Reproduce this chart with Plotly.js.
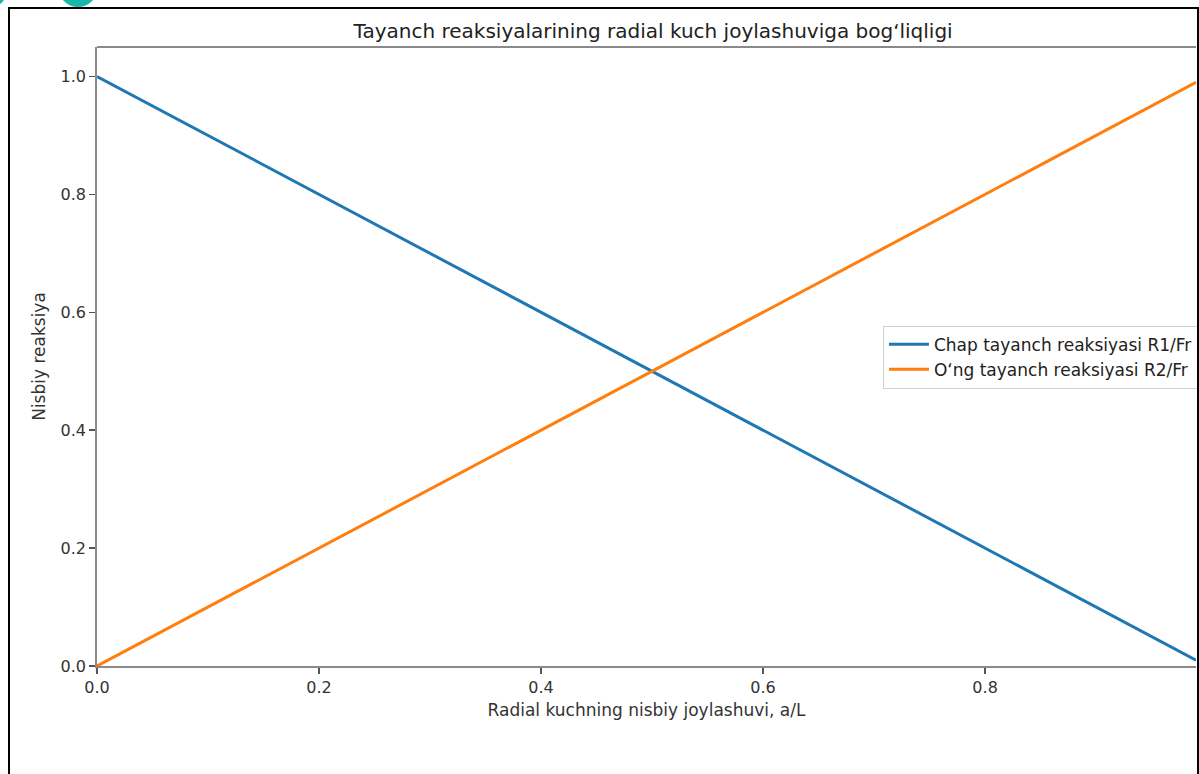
<!DOCTYPE html>
<html>
<head>
<meta charset="utf-8">
<script src="https://cdn.plot.ly/plotly-3.0.1.min.js"></script>
<style>
  html, body { margin: 0; padding: 0; background: #ffffff; overflow: hidden; }
  #chart { width: 1199px; height: 774px; position: absolute; left: 0; top: 0; }
  .frame { position: absolute; background: #000; z-index: 5; }
  .dot { position: absolute; background: #17b8ab; border-radius: 50%; z-index: 6; }
</style>
</head>
<body>
<div id="chart"></div>
<div class="frame" style="left:8px; top:7px; width:2px; height:767px;"></div>
<div class="frame" style="left:8px; top:7px; width:1190px; height:2px;"></div>
<div class="frame" style="left:1197px; top:7px; width:2px; height:767px;"></div>
<div class="dot" style="left:58px; top:-34px; width:40px; height:41px;"></div>
<div class="dot" style="left:-26px; top:-26px; width:33px; height:33px;"></div>
<script>
const positions = [0.0, 0.2, 0.4, 0.5, 0.6, 0.8, 0.99];
const leftReaction = [1.0, 0.8, 0.6, 0.5, 0.4, 0.2, 0.01];
const rightReaction = [0.0, 0.2, 0.4, 0.5, 0.6, 0.8, 0.99];
const seriesNames = ["Chap tayanch reaksiyasi R1/Fr", "O‘ng tayanch reaksiyasi R2/Fr"];
const xTicks = [0.0, 0.2, 0.4, 0.6, 0.8];
const xTickLabels = ["0.0", "0.2", "0.4", "0.6", "0.8"];
const yTicks = [0.0, 0.2, 0.4, 0.6, 0.8, 1.0];
const yTickLabels = ["0.0", "0.2", "0.4", "0.6", "0.8", "1.0"];

const font = "DejaVu Sans, sans-serif";
const traces = [
  { x: positions, y: leftReaction, name: seriesNames[0], mode: "lines",
    line: { color: "#1f77b4", width: 3 }, cliponaxis: true },
  { x: positions, y: rightReaction, name: seriesNames[1], mode: "lines",
    line: { color: "#ff7f0e", width: 3 }, cliponaxis: true }
];
const axisCommon = {
  showgrid: false, zeroline: false, showline: true, linecolor: "#8a8a8a", linewidth: 1.8,
  ticks: "outside", ticklen: 6, tickwidth: 1.4, tickcolor: "#555",
  tickfont: { family: font, size: 16, color: "#333" }, mirror: false
};
const layout = {
  width: 1199, height: 774,
  margin: { l: 97, r: 2, t: 47, b: 108 },
  paper_bgcolor: "#ffffff", plot_bgcolor: "#ffffff",
  showlegend: true,
  title: { text: "Tayanch reaksiyalarining radial kuch joylashuviga bog‘liqligi",
    font: { family: font, size: 20, color: "#222" },
    xref: "paper", x: 0.506, xanchor: "center", yref: "container", y: 0.96, yanchor: "middle" },
  xaxis: Object.assign({}, axisCommon, {
    range: [0, 0.99], tickvals: xTicks, ticktext: xTickLabels,
    title: { text: "Radial kuchning nisbiy joylashuvi, a/L", font: { family: font, size: 17, color: "#333" }, standoff: 8 }
  }),
  yaxis: Object.assign({}, axisCommon, {
    range: [0, 1.05], tickvals: yTicks, ticktext: yTickLabels,
    title: { text: "Nisbiy reaksiya", font: { family: font, size: 17, color: "#333" }, standoff: 10 }
  }),
  legend: {
    x: 0.7145, y: 0.499, xanchor: "left", yanchor: "middle",
    bgcolor: "rgba(255,255,255,0.9)", bordercolor: "#d0d0d0", borderwidth: 1,
    font: { family: font, size: 17, color: "#222" }, tracegroupgap: 0, itemwidth: 40
  },
  shapes: [
    { type: "line", xref: "paper", yref: "paper", x0: 0, x1: 1, y0: 1, y1: 1,
      line: { color: "#8a8a8a", width: 1.8 } }
  ]
};
Plotly.newPlot("chart", traces, layout, { displayModeBar: false, staticPlot: true });
</script>
</body>
</html>
